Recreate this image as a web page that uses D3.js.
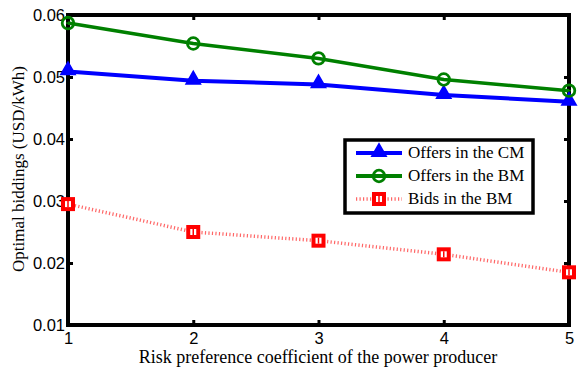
<!DOCTYPE html>
<html>
<head>
<meta charset="utf-8">
<script src="https://cdn.jsdelivr.net/npm/d3@7"></script>
<style>
  body { margin: 0; background: #fff; }
  svg { display: block; }
</style>
</head>
<body>
<svg id="chart" width="580" height="370"></svg>
<script>
// risk preference coefficient
const coeffs = [1, 2, 3, 4, 5]
const offersCM = [0.0509, 0.0494, 0.0488, 0.0471, 0.0460]
const offersBM = [0.0587, 0.0554, 0.0530, 0.0496, 0.0478]
const bidsBM = [0.0295, 0.0250, 0.0236, 0.0214, 0.0185]
const yTicks = [0.01, 0.02, 0.03, 0.04, 0.05, 0.06]
const seriesNames = ['Offers in the CM', 'Offers in the BM', 'Bids in the BM']

const margin = {left: 68, top: 15, right: 11, bottom: 45}
const width = 580 - margin.left - margin.right,
    height = 370 - margin.top - margin.bottom

const svg = d3.select('#chart')
const g = svg.append('g')
    .attr('transform', `translate(${margin.left},${margin.top})`)

const x = d3.scaleLinear().domain([1, 5]).range([0, width])
const y = d3.scaleLinear().domain([0.01, 0.06]).range([height, 0])

// axes, ticks inward like matlab
const tickFont = 'Liberation Sans, Arial, sans-serif'
const axes = g.append('g').attr('class', 'axes')
axes.append('g')
    .attr('transform', `translate(0,${height})`)
    .call(d3.axisBottom(x).tickValues(coeffs).tickSize(-5).tickPadding(7).tickFormat(d3.format('d')))
axes.append('g')
    .call(d3.axisLeft(y).tickValues(yTicks).tickSize(-5).tickPadding(3).tickFormat(d3.format('.2f')))
axes.append('g')
    .call(d3.axisTop(x).tickValues(coeffs).tickSize(-5).tickFormat(''))
axes.append('g')
    .attr('transform', `translate(${width},0)`)
    .call(d3.axisRight(y).tickValues(yTicks).tickSize(-5).tickFormat(''))

axes.selectAll('.domain').remove()
axes.selectAll('.tick line').attr('stroke', '#000').attr('stroke-width', 3)
axes.selectAll('.tick text')
    .attr('fill', '#000')
    .attr('font-family', tickFont)
    .attr('font-size', 16.5)

// thick box
g.append('rect')
    .attr('width', width).attr('height', height)
    .attr('fill', 'none')
    .attr('stroke', '#000').attr('stroke-width', 4)

const line = d3.line()
    .x((d, i) => x(coeffs[i]))
    .y(d => y(d))

// green: offers in the BM
g.append('path')
    .datum(offersBM)
    .attr('fill', 'none')
    .attr('stroke', '#008000')
    .attr('stroke-width', 3.5)
    .attr('d', line)
// blue: offers in the CM
g.append('path')
    .datum(offersCM)
    .attr('fill', 'none')
    .attr('stroke', '#0000ff')
    .attr('stroke-width', 4)
    .attr('d', line)
// red: bids in the BM, dotted
g.append('path')
    .datum(bidsBM)
    .attr('fill', 'none')
    .attr('stroke', '#ff0000')
    .attr('stroke-width', 3.5)
    .attr('stroke-dasharray', '1.2,2.3')
    .attr('opacity', 0.6)
    .attr('d', line)

const tri = d3.symbol().type(d3.symbolTriangle).size(80)

function drawMarkers(sel, k) {
    if (k == 0) {
        sel.append('path').attr('d', tri)
            .attr('transform', 'translate(0,-1)')
            .attr('fill', '#0000ff').attr('stroke', '#0000ff').attr('stroke-width', 2)
    } else if (k == 1) {
        sel.append('circle').attr('r', 5.8)
            .attr('fill', 'none').attr('stroke', '#008000').attr('stroke-width', 2.8)
        sel.append('line').attr('x1', -2).attr('x2', 2)
            .attr('stroke', '#008000').attr('stroke-width', 1.5)
    } else {
        sel.append('rect').attr('x', -5).attr('y', -5).attr('width', 10).attr('height', 10)
            .attr('fill', '#fff').attr('stroke', '#ff0000').attr('stroke-width', 4)
        sel.append('line').attr('y1', -3).attr('y2', 3)
            .attr('stroke', '#ff0000').attr('stroke-width', 1.5)
    }
}

;[offersCM, offersBM, bidsBM].forEach((vals, k) => {
    g.selectAll('.m' + k)
        .data(vals)
        .enter().append('g')
        .attr('class', 'm' + k)
        .attr('transform', (d, i) => `translate(${x(coeffs[i])},${y(d)})`)
        .each(function() { drawMarkers(d3.select(this), k) })
})

// axis titles
const serif = 'Liberation Serif, Times New Roman, serif'
svg.append('text')
    .attr('x', 318)
    .attr('y', 363)
    .attr('text-anchor', 'middle')
    .attr('font-family', serif)
    .attr('font-size', 18)
    .text('Risk preference coefficient of the power producer')
svg.append('text')
    .attr('transform', `translate(24,169) rotate(-90)`)
    .attr('text-anchor', 'middle')
    .attr('font-family', serif)
    .attr('font-size', 17)
    .text('Optimal biddings (USD/kWh)')

// legend
const legend = svg.append('g').attr('transform', 'translate(345,140)')
legend.append('rect')
    .attr('width', 188).attr('height', 73)
    .attr('fill', '#fff').attr('stroke', '#000').attr('stroke-width', 3.5)
const legColors = ['#0000ff', '#008000', '#ff0000']
seriesNames.forEach((name, k) => {
    const row = legend.append('g').attr('transform', `translate(0,${13 + k * 23})`)
    const ln = row.append('line')
        .attr('x1', 11).attr('x2', 57)
        .attr('stroke', legColors[k])
        .attr('stroke-width', k == 2 ? 3.5 : 4)
    if (k == 2) ln.attr('stroke-dasharray', '1.2,2.3').attr('opacity', 0.6)
    const mk = row.append('g').attr('transform', 'translate(34,0)')
    drawMarkers(mk, k)
    row.append('text')
        .attr('x', 63).attr('y', 5)
        .attr('font-family', serif)
        .attr('font-size', 17)
        .text(name)
})
</script>
</body>
</html>
